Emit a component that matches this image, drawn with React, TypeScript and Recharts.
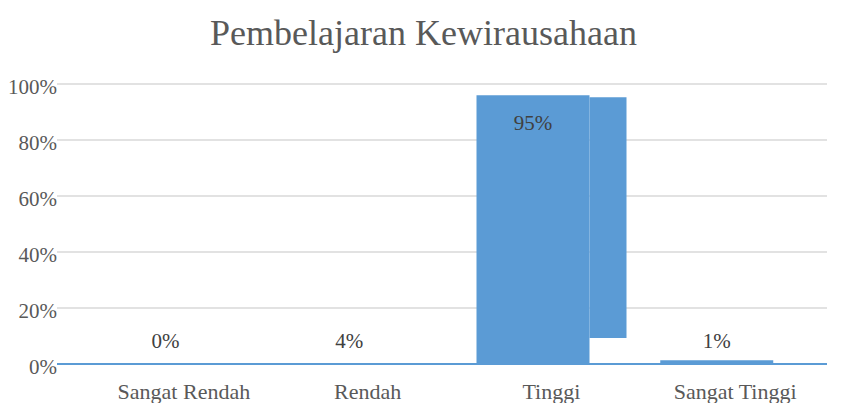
import React from 'react';
import { ComposedChart, Bar, XAxis, YAxis, CartesianGrid, LabelList } from 'recharts';

// categories and values
const categories = ['Sangat Rendah', 'Rendah', 'Tinggi', 'Sangat Tinggi'];
const labels = ['0%', '4%', '95%', '1%'];
// bar heights as drawn in the picture (%): the low ones are just a thin line
const barHeights = [0.3, 0.3, 96, 1.3];
// the stepped strip drawn right of the Tinggi bar (low, high in %)
const stripRanges: (number[] | null)[] = [null, null, [9.3, 95.3], null];
const yTicks = [0, 20, 40, 60, 80, 100];

const data = categories.map((name, i) => ({
  name,
  value: barHeights[i],
  strip: stripRanges[i],
  label: labels[i],
}));

const FONT = '"Liberation Serif", "Times New Roman", serif';
const BLUE = '#5B9BD5';

const renderLabel = (props: any) => {
  const { x, y, width, value } = props;
  const i = labels.indexOf(value);
  const big = barHeights[i] > 50;
  const base = big ? y : y + (280 * barHeights[i]) / 100;
  return (
    <text
      x={x + width / 2}
      y={big ? base + 35 : base - 16}
      textAnchor="middle"
      fill="#404040"
      style={{ fontFamily: FONT, fontSize: 21 }}
    >
      {value}
    </text>
  );
};

export default function App() {
  return (
    <div style={{ position: 'absolute', left: 0, top: 0, width: 853, height: 403, background: '#fff', fontFamily: FONT }}>
      <div style={{
        position: 'absolute', left: 0, top: 15, width: 847, textAlign: 'center',
        fontSize: 36, lineHeight: '36px', color: '#595959', fontFamily: FONT,
      }}>
        Pembelajaran Kewirausahaan
      </div>
      <ComposedChart
        width={853}
        height={403}
        data={data}
        margin={{ top: 84, right: 26, bottom: 0, left: 0 }}
        barGap={0}
      >
        <CartesianGrid vertical={false} stroke="#D9D9D9" strokeWidth={1.5} />
        <XAxis
          dataKey="name"
          padding={{ left: 35, right: 0 }}
          height={39}
          tickSize={0}
          tickMargin={19}
          tickLine={false}
          axisLine={{ stroke: BLUE, strokeWidth: 2 }}
          interval={0}
          tick={{ fill: '#595959', fontSize: 22, fontFamily: FONT }}
        />
        <YAxis
          domain={[0, 100]}
          ticks={yTicks}
          width={57}
          tickSize={0}
          tickMargin={0}
          axisLine={false}
          tickLine={false}
          tickFormatter={(v: number) => `${v}%`}
          tick={{ fill: '#595959', fontSize: 21, fontFamily: FONT, dy: 3 }}
        />
        <Bar dataKey="value" fill={BLUE} barSize={113} isAnimationActive={false}>
          <LabelList dataKey="label" content={renderLabel} />
        </Bar>
        <Bar dataKey="strip" fill={BLUE} barSize={37} isAnimationActive={false} />
      </ComposedChart>
    </div>
  );
}
